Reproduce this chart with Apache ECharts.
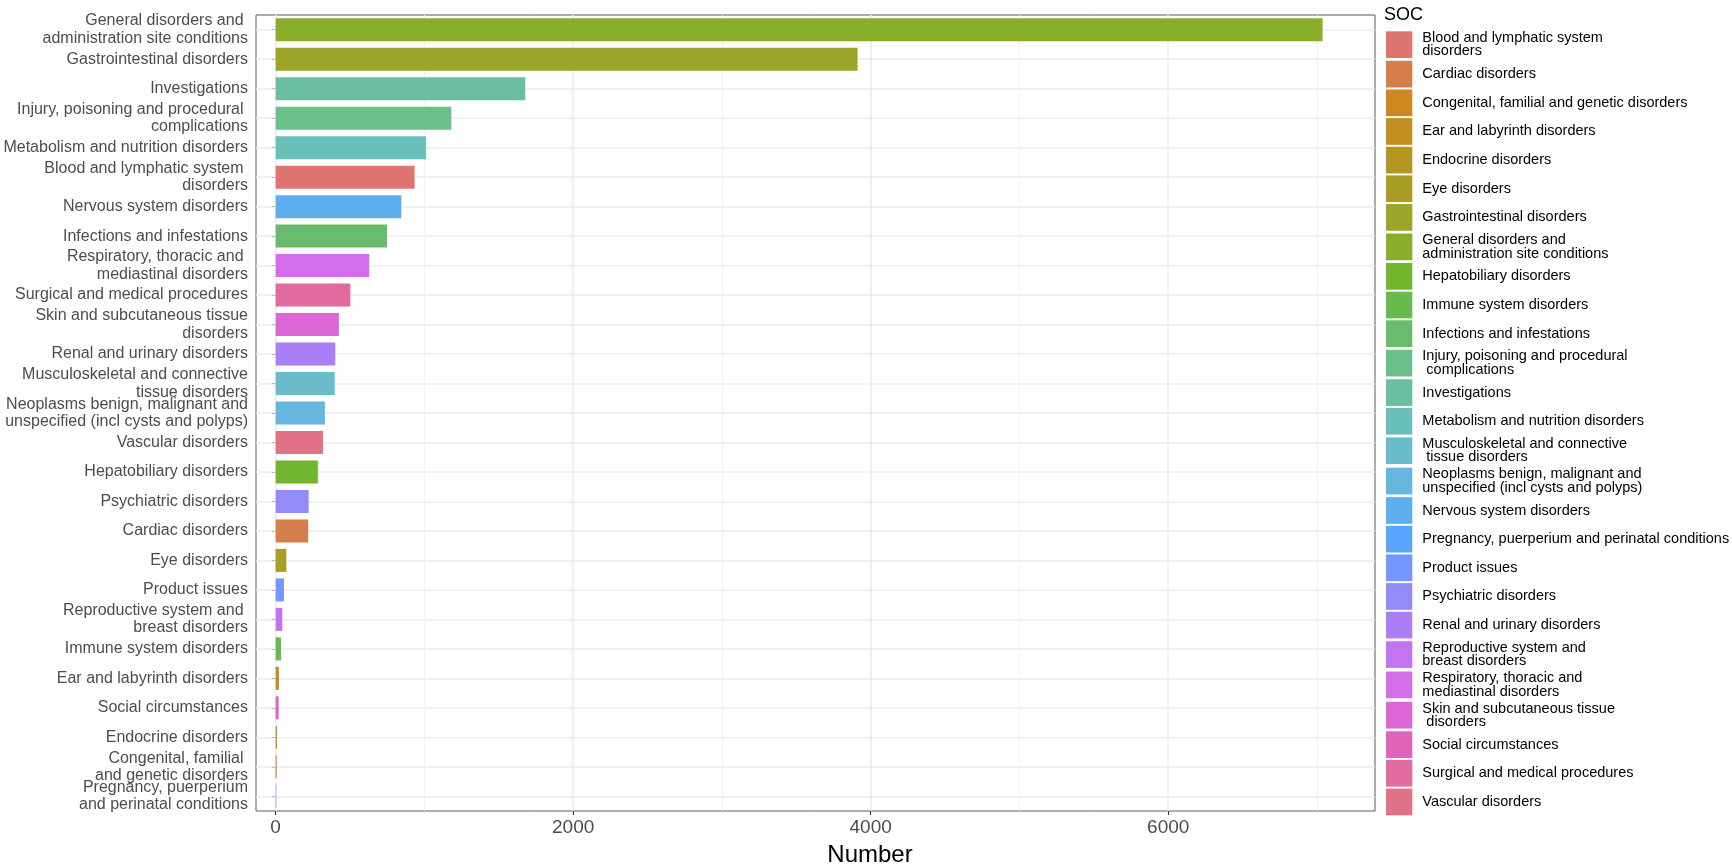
<!DOCTYPE html>
<html>
<head>
<meta charset="utf-8">
<script src="https://cdn.jsdelivr.net/npm/echarts@6/dist/echarts.min.js"></script>
<style>
html,body{margin:0;padding:0;background:#ffffff;}
#chart{width:1732px;height:865px;}
</style>
</head>
<body>
<div id="chart"></div>
<script>
// ---- Data (SOC in alphabetical / legend order) ----
const socNames = [
  "Blood and lymphatic system disorders",
  "Cardiac disorders",
  "Congenital, familial and genetic disorders",
  "Ear and labyrinth disorders",
  "Endocrine disorders",
  "Eye disorders",
  "Gastrointestinal disorders",
  "General disorders and administration site conditions",
  "Hepatobiliary disorders",
  "Immune system disorders",
  "Infections and infestations",
  "Injury, poisoning and procedural complications",
  "Investigations",
  "Metabolism and nutrition disorders",
  "Musculoskeletal and connective tissue disorders",
  "Neoplasms benign, malignant and unspecified (incl cysts and polyps)",
  "Nervous system disorders",
  "Pregnancy, puerperium and perinatal conditions",
  "Product issues",
  "Psychiatric disorders",
  "Renal and urinary disorders",
  "Reproductive system and breast disorders",
  "Respiratory, thoracic and mediastinal disorders",
  "Skin and subcutaneous tissue disorders",
  "Social circumstances",
  "Surgical and medical procedures",
  "Vascular disorders"
];
const socCounts = [
  934, 219, 7, 22, 9, 72, 3912, 7038, 284, 36, 749, 1181, 1678, 1011,
  397, 331, 845, 4, 56, 222, 401, 45, 629, 425, 20, 502, 319
];
const axisLabels = [
  "Blood and lymphatic system \ndisorders",
  "Cardiac disorders",
  "Congenital, familial \nand genetic disorders",
  "Ear and labyrinth disorders",
  "Endocrine disorders",
  "Eye disorders",
  "Gastrointestinal disorders",
  "General disorders and \nadministration site conditions",
  "Hepatobiliary disorders",
  "Immune system disorders",
  "Infections and infestations",
  "Injury, poisoning and procedural \ncomplications",
  "Investigations",
  "Metabolism and nutrition disorders",
  "Musculoskeletal and connective\ntissue disorders",
  "Neoplasms benign, malignant and\nunspecified (incl cysts and polyps)",
  "Nervous system disorders",
  "Pregnancy, puerperium\nand perinatal conditions",
  "Product issues",
  "Psychiatric disorders",
  "Renal and urinary disorders",
  "Reproductive system and \nbreast disorders",
  "Respiratory, thoracic and \nmediastinal disorders",
  "Skin and subcutaneous tissue\ndisorders",
  "Social circumstances",
  "Surgical and medical procedures",
  "Vascular disorders"
];
const legendLabels = [
  "Blood and lymphatic system\ndisorders",
  "Cardiac disorders",
  "Congenital, familial and genetic disorders",
  "Ear and labyrinth disorders",
  "Endocrine disorders",
  "Eye disorders",
  "Gastrointestinal disorders",
  "General disorders and\nadministration site conditions",
  "Hepatobiliary disorders",
  "Immune system disorders",
  "Infections and infestations",
  "Injury, poisoning and procedural\n complications",
  "Investigations",
  "Metabolism and nutrition disorders",
  "Musculoskeletal and connective\n tissue disorders",
  "Neoplasms benign, malignant and\nunspecified (incl cysts and polyps)",
  "Nervous system disorders",
  "Pregnancy, puerperium and perinatal conditions",
  "Product issues",
  "Psychiatric disorders",
  "Renal and urinary disorders",
  "Reproductive system and\nbreast disorders",
  "Respiratory, thoracic and\nmediastinal disorders",
  "Skin and subcutaneous tissue\n disorders",
  "Social circumstances",
  "Surgical and medical procedures",
  "Vascular disorders"
];
const xTicks = [0, 2000, 4000, 6000];
const xMinorTicks = [1000, 3000, 5000, 7000];
const legendTitle = "SOC";
const xTitle = "Number";

// ---- Colours (one per SOC, legend order) ----
const palette = [
  '#DE7470', '#D5804C', '#CE8822', '#C38E22', '#B69623', '#A89E27', '#9AA52A',
  '#88AE2C', '#72B62F', '#67BA4D', '#69BC6D', '#6BBF8A', '#6BBFA0', '#6ABFB8',
  '#6ABCCB', '#66B6DE', '#5FAEEE', '#5AA5FC', '#7596FC', '#948BF8', '#AA7FF5',
  '#C275F2', '#D46DE9', '#DA67D3', '#DE65B9', '#E16A9E', '#E07186'
];

// ---- Category order: descending by count (top to bottom) ----
const order = socNames.map((_, i) => i).sort((a, b) => socCounts[b] - socCounts[a]);
const cats = order.map(i => socNames[i]);

const FONT = "'Liberation Sans', Arial, Helvetica, sans-serif";

const barSeries = socNames.map((name, i) => ({
  name: name,
  type: 'bar',
  stack: 'soc',
  barWidth: 23,
  z: 3,
  itemStyle: { color: palette[i] },
  data: cats.map(c => (c === name ? socCounts[i] : '-'))
}));

const gridSeries = {
  name: '__grid__',
  type: 'line',
  z: 1,
  silent: true,
  showSymbol: false,
  data: [],
  markLine: {
    z: 1,
    silent: true,
    symbol: 'none',
    animation: false,
    label: { show: false },
    emphasis: { disabled: true },
    data: [
      ...cats.map(c => ({ yAxis: c, lineStyle: { color: '#EBEBEB', width: 1.5, type: 'solid' } })),
      ...xMinorTicks.map(v => ({ xAxis: v, lineStyle: { color: '#F1F1F1', width: 0.9, type: 'solid' } }))
    ]
  }
};

const chart = echarts.init(document.getElementById('chart'), null, { renderer: 'canvas' });
chart.setOption({
  animation: false,
  backgroundColor: '#ffffff',
  textStyle: { fontFamily: FONT },
  title: {
    text: legendTitle,
    left: 1384,
    top: 6,
    padding: 0,
    textStyle: { fontSize: 18, fontWeight: 'normal', color: '#000000', fontFamily: FONT }
  },
  legend: {
    orient: 'vertical',
    left: 1386,
    top: 30.5,
    padding: 0,
    itemWidth: 26.3,
    itemHeight: 26.7,
    itemGap: 1.95,
    icon: 'rect',
    selectedMode: false,
    data: socNames,
    formatter: name => legendLabels[socNames.indexOf(name)],
    itemStyle: { borderWidth: 0 },
    textStyle: {
      fontSize: 14.5,
      lineHeight: 13.35,
      color: '#000000',
      fontFamily: FONT,
      padding: [0, 0, 0, 5]
    }
  },
  grid: {
    left: 256,
    right: 357,
    top: 15,
    bottom: 54,
    show: true,
    borderColor: '#5a5a5a',
    borderWidth: 1,
    backgroundColor: 'transparent',
    containLabel: false,
    outerBoundsMode: 'none'
  },
  xAxis: {
    type: 'value',
    min: -132,
    max: 7390,
    splitNumber: 4,
    name: xTitle,
    nameLocation: 'middle',
    nameGap: 32,
    nameTextStyle: { fontSize: 24, color: '#000000', fontFamily: FONT, padding: [0, 0, 0, 109] },
    axisLine: { show: false },
    axisTick: { show: true, length: 4, customValues: xTicks, lineStyle: { color: '#333333', width: 1 } },
    axisLabel: {
      customValues: xTicks,
      fontSize: 19,
      color: '#4D4D4D',
      margin: 7,
      formatter: v => (xTicks.indexOf(v) >= 0 ? String(v) : '')
    },
    splitLine: { show: true, lineStyle: { color: '#EBEBEB', width: 1.5 } },
    minorSplitLine: { show: false }
  },
  yAxis: {
    type: 'category',
    inverse: true,
    data: cats,
    axisLine: { show: false },
    axisTick: { show: true, length: 4, alignWithLabel: true, lineStyle: { color: '#333333', width: 1 } },
    axisLabel: {
      interval: 0,
      fontSize: 16,
      lineHeight: 17.3,
      color: '#4D4D4D',
      margin: 8,
      fontFamily: FONT,
      formatter: v => axisLabels[socNames.indexOf(v)]
    },
    splitLine: { show: false }
  },
  series: [gridSeries, ...barSeries]
});
</script>
</body>
</html>
